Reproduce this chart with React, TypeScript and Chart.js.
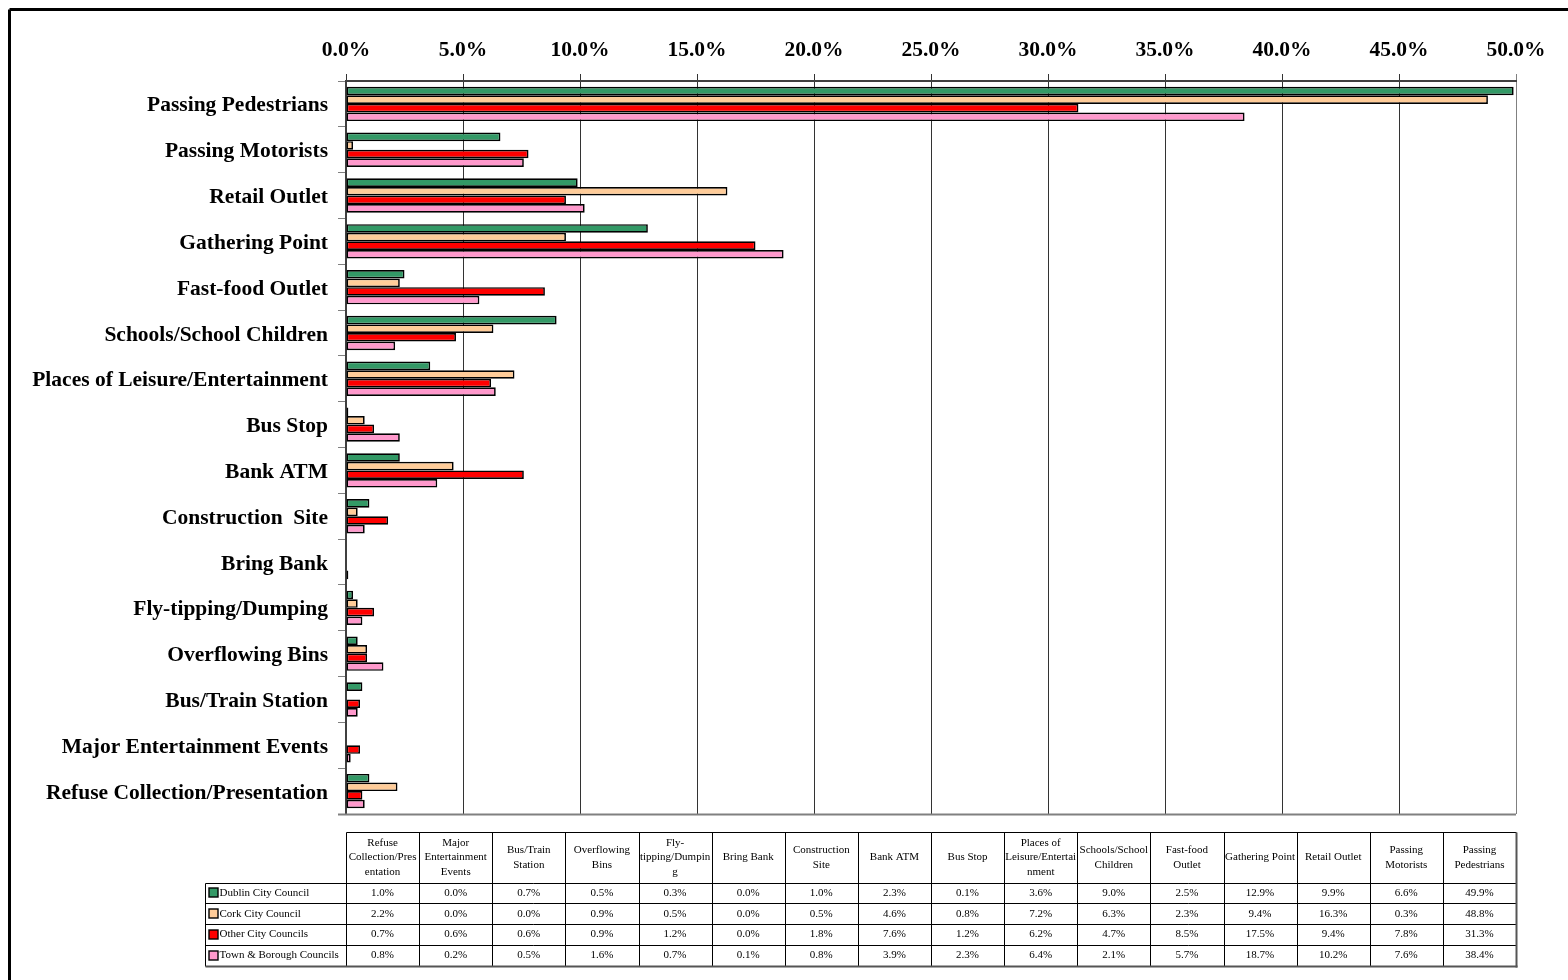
import React, { useEffect, useRef } from 'react';
import { Chart, registerables } from 'chart.js';

Chart.register(...registerables);

// Categories in table order (bottom of the chart first)
const categories = [
  'Refuse Collection/Presentation',
  'Major Entertainment Events',
  'Bus/Train Station',
  'Overflowing Bins',
  'Fly-tipping/Dumping',
  'Bring Bank',
  'Construction  Site',
  'Bank ATM',
  'Bus Stop',
  'Places of Leisure/Entertainment',
  'Schools/School Children',
  'Fast-food Outlet',
  'Gathering Point',
  'Retail Outlet',
  'Passing Motorists',
  'Passing Pedestrians',
];

const seriesNames = ['Dublin City Council', 'Cork City Council', 'Other City Councils', 'Town & Borough Councils'];

const dublin = [1.0, 0.0, 0.7, 0.5, 0.3, 0.0, 1.0, 2.3, 0.1, 3.6, 9.0, 2.5, 12.9, 9.9, 6.6, 49.9];
const cork = [2.2, 0.0, 0.0, 0.9, 0.5, 0.0, 0.5, 4.6, 0.8, 7.2, 6.3, 2.3, 9.4, 16.3, 0.3, 48.8];
const otherCity = [0.7, 0.6, 0.6, 0.9, 1.2, 0.0, 1.8, 7.6, 1.2, 6.2, 4.7, 8.5, 17.5, 9.4, 7.8, 31.3];
const townBorough = [0.8, 0.2, 0.5, 1.6, 0.7, 0.1, 0.8, 3.9, 2.3, 6.4, 2.1, 5.7, 18.7, 10.2, 7.6, 38.4];

const seriesValues = [dublin, cork, otherCity, townBorough];
const seriesColors = ['#339966', '#FFCC99', '#FF0000', '#FF99CC'];

const xMin = 0;
const xMax = 50;
const xStep = 5;

const SERIF = '"Liberation Serif", "Times New Roman", serif';

function wrapText(ctx: CanvasRenderingContext2D, text: string, maxW: number): string[] {
  const words = text.split(/\s+/).filter(Boolean);
  const tokens: { t: string; space: boolean }[] = [];
  words.forEach((w) => {
    const parts = w.split(/(?<=-)/);
    parts.forEach((p, i) => tokens.push({ t: p, space: i === 0 }));
  });
  const lines: string[] = [];
  let cur = '';
  const m = (s: string) => ctx.measureText(s).width;
  tokens.forEach((tok) => {
    const cand = cur ? cur + (tok.space ? ' ' : '') + tok.t : tok.t;
    if (m(cand) <= maxW) {
      cur = cand;
    } else {
      if (cur) lines.push(cur);
      let t = tok.t;
      while (m(t) > maxW && t.length > 1) {
        let n = t.length;
        while (n > 1 && m(t.slice(0, n)) > maxW) n--;
        lines.push(t.slice(0, n));
        t = t.slice(n);
      }
      cur = t;
    }
  });
  if (cur) lines.push(cur);
  return lines;
}

const tablePlugin = {
  id: 'dataTable',
  afterDraw(chart: any) {
    const ctx: CanvasRenderingContext2D = chart.ctx;
    const { left, right, bottom } = chart.chartArea;
    const n = categories.length;
    const colW = (right - left) / n;
    const top = Math.round(bottom + 18) + 0.5;
    const headH = 50;
    const rowH = 20.75;
    const legL = Math.round(left - 141) + 0.5;
    const tBottom = top + headH + rowH * seriesNames.length;
    const L = (x1: number, y1: number, x2: number, y2: number) => {
      ctx.beginPath();
      ctx.moveTo(x1, y1);
      ctx.lineTo(x2, y2);
      ctx.stroke();
    };
    const px = (v: number) => Math.round(v) + 0.5;

    ctx.save();

    // outer frame of the whole chart (left & top visible)
    ctx.strokeStyle = '#000';
    ctx.lineWidth = 3;
    L(1.5, chart.height, 1.5, 1.5);
    L(1.5, 1.5, chart.width, 1.5);

    // plot area bottom border
    ctx.strokeStyle = '#808080';
    ctx.lineWidth = 2;
    L(left - 8, px(bottom), right, px(bottom));

    // table grid
    ctx.strokeStyle = '#000';
    ctx.lineWidth = 1;
    L(px(left), top, px(right), top);
    for (let i = 0; i < n; i++) {
      L(px(left + i * colW), top, px(left + i * colW), px(tBottom));
    }
    for (let r = 0; r < seriesNames.length; r++) {
      const y = px(top + headH + r * rowH);
      L(legL, y, px(right), y);
    }
    L(legL, px(top + headH), legL, px(tBottom));
    ctx.strokeStyle = '#555';
    ctx.lineWidth = 2;
    L(px(right), top, px(right), px(tBottom) + 1);
    L(legL, px(tBottom), px(right) + 1, px(tBottom));

    // header text
    ctx.fillStyle = '#000';
    ctx.font = `11px ${SERIF}`;
    ctx.textAlign = 'center';
    ctx.textBaseline = 'middle';
    const lh = 14.5;
    categories.forEach((c, i) => {
      const lines = wrapText(ctx, c, colW - 1.4);
      const cx = left + (i + 0.5) * colW;
      const cy = top + headH / 2;
      lines.forEach((ln, k) => {
        ctx.fillText(ln, cx, cy + (k - (lines.length - 1) / 2) * lh);
      });
    });

    // rows
    seriesNames.forEach((name, r) => {
      const cy = top + headH + (r + 0.5) * rowH;
      // legend key
      ctx.fillStyle = seriesColors[r];
      ctx.fillRect(legL + 3.5, Math.round(cy - 4.5), 9, 9);
      ctx.strokeStyle = '#000';
      ctx.lineWidth = 1.4;
      ctx.strokeRect(legL + 3.5, Math.round(cy - 4.5), 9, 9);
      ctx.fillStyle = '#000';
      ctx.textAlign = 'left';
      ctx.fillText(name, legL + 14, cy);
      ctx.textAlign = 'center';
      seriesValues[r].forEach((v, i) => {
        ctx.fillText(v.toFixed(1) + '%', left + (i + 0.5) * colW, cy);
      });
    });

    ctx.restore();
  },
};

export default function App() {
  const ref = useRef<HTMLCanvasElement | null>(null);

  useEffect(() => {
    if (!ref.current) return;
    const chart = new Chart(ref.current, {
      type: 'bar',
      data: {
        labels: categories,
        datasets: seriesNames.map((name, i) => ({
          label: name,
          data: seriesValues[i],
          backgroundColor: seriesColors[i],
          borderColor: '#000',
          borderWidth: 1.7,
          borderSkipped: false,
          categoryPercentage: 0.75,
          barPercentage: 1.0,
        })),
      },
      options: {
        indexAxis: 'y',
        responsive: false,
        animation: false,
        devicePixelRatio: 1,
        layout: { padding: { left: 0, right: 52, top: 0, bottom: 166 } },
        plugins: {
          legend: { display: false },
          tooltip: { enabled: false },
          title: { display: false },
        },
        scales: {
          x: {
            position: 'top',
            min: xMin,
            max: xMax,
            afterFit: (s: any) => {
              s.height = 73;
              s.paddingLeft = 0;
              s.paddingRight = 0;
            },
            ticks: {
              stepSize: xStep,
              autoSkip: false,
              maxRotation: 0,
              padding: 11,
              color: '#000',
              font: { family: SERIF, size: 21.5, weight: 'bold' },
              callback: (v: any) => Number(v).toFixed(1) + '%',
            },
            grid: {
              color: (c: any) => (c.tick && c.tick.value === xMax ? '#808080' : '#333333'),
              lineWidth: 1,
              tickLength: 7,
            },
            border: { display: true, color: '#404040', width: 2 },
          },
          y: {
            type: 'category',
            reverse: true,
            afterFit: (s: any) => {
              s.width = 338;
              s.paddingTop = 0;
              s.paddingBottom = 0;
            },
            ticks: {
              autoSkip: false,
              padding: 10,
              labelOffset: 2,
              color: '#000',
              font: { family: SERIF, size: 21.5, weight: 'bold' },
            },
            grid: {
              drawOnChartArea: false,
              color: '#808080',
              tickLength: 8,
              offset: true,
            },
            border: { display: true, color: '#404040', width: 2 },
          },
        },
      },
      plugins: [tablePlugin],
    } as any);
    return () => chart.destroy();
  }, []);

  return (
    <div
      style={{
        position: 'fixed',
        left: 0,
        top: 0,
        width: 1568,
        height: 980,
        overflow: 'hidden',
        background: '#fff',
      }}
    >
      <canvas
        ref={ref}
        width={1560}
        height={972}
        style={{ position: 'absolute', left: 8, top: 8, width: 1560, height: 972 }}
      />
    </div>
  );
}
